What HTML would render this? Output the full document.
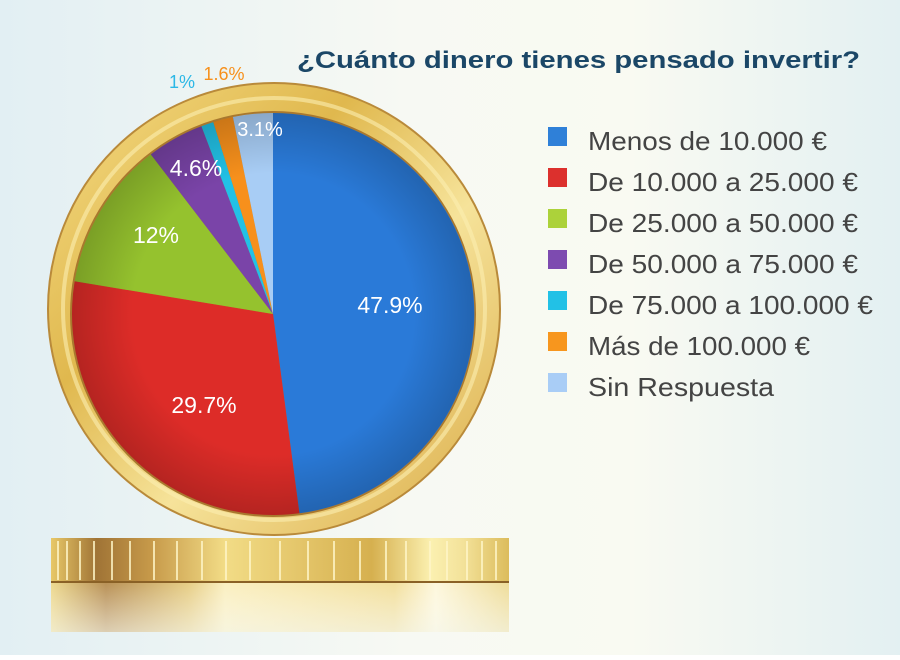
<!DOCTYPE html>
<html><head><meta charset="utf-8"><style>
html,body{margin:0;padding:0}
body{width:900px;height:655px;overflow:hidden}
</style></head><body>
<svg width="900" height="655" viewBox="0 0 900 655" xmlns="http://www.w3.org/2000/svg">
<defs>
<linearGradient id="bg" x1="0" y1="0" x2="1" y2="0">
<stop offset="0" stop-color="#e2eff3"/><stop offset="0.45" stop-color="#f7f9f3"/><stop offset="0.7" stop-color="#f9faf2"/><stop offset="1" stop-color="#e3f0f2"/>
</linearGradient>
<linearGradient id="ring" x1="0" y1="0" x2="1" y2="1">
<stop offset="0" stop-color="#f5dc85"/><stop offset="0.35" stop-color="#e0b84e"/><stop offset="0.6" stop-color="#f6e39a"/><stop offset="1" stop-color="#d9a943"/>
</linearGradient>
<linearGradient id="edge" x1="0" y1="0" x2="1" y2="0">
<stop offset="0" stop-color="#e8c868"/><stop offset="0.1" stop-color="#a07436"/><stop offset="0.22" stop-color="#c79a4a"/><stop offset="0.38" stop-color="#f2dc86"/><stop offset="0.7" stop-color="#d6b04f"/><stop offset="0.83" stop-color="#fbf0b0"/><stop offset="0.9" stop-color="#f3e29a"/><stop offset="1" stop-color="#dcbc5c"/>
</linearGradient>
<linearGradient id="refl" x1="0" y1="0" x2="1" y2="0">
<stop offset="0" stop-color="#edd98e"/><stop offset="0.12" stop-color="#b89055"/><stop offset="0.3" stop-color="#e6cd85"/><stop offset="0.38" stop-color="#faefc0"/><stop offset="0.75" stop-color="#f2df9c"/><stop offset="0.84" stop-color="#fdf7dc"/><stop offset="1" stop-color="#eedc98"/>
</linearGradient>
<linearGradient id="fade" x1="0" y1="0" x2="0" y2="1">
<stop offset="0" stop-color="#fff" stop-opacity="0"/><stop offset="1" stop-color="#f4f7f0" stop-opacity="0.6"/>
</linearGradient>
<radialGradient id="shade" cx="273" cy="314" r="201" gradientUnits="userSpaceOnUse">
<stop offset="0.7" stop-color="#000" stop-opacity="0"/><stop offset="1" stop-color="#000" stop-opacity="0.18"/>
</radialGradient>
</defs>
<rect width="900" height="655" fill="url(#bg)"/>

<rect x="51" y="582" width="458" height="50" fill="url(#refl)"/>
<rect x="51" y="582" width="458" height="50" fill="url(#fade)"/>
<rect x="51" y="538" width="458" height="45" fill="url(#edge)"/>
<g stroke="#fff6c8" stroke-width="2" opacity="0.8">
<line x1="58" y1="541" x2="58" y2="580"/><line x1="67" y1="541" x2="67" y2="580"/><line x1="80" y1="541" x2="80" y2="580"/><line x1="94" y1="541" x2="94" y2="580"/><line x1="112" y1="541" x2="112" y2="580"/><line x1="130" y1="541" x2="130" y2="580"/><line x1="154" y1="541" x2="154" y2="580"/><line x1="177" y1="541" x2="177" y2="580"/><line x1="202" y1="541" x2="202" y2="580"/><line x1="226" y1="541" x2="226" y2="580"/><line x1="250" y1="541" x2="250" y2="580"/><line x1="280" y1="541" x2="280" y2="580"/><line x1="308" y1="541" x2="308" y2="580"/><line x1="334" y1="541" x2="334" y2="580"/><line x1="360" y1="541" x2="360" y2="580"/><line x1="386" y1="541" x2="386" y2="580"/><line x1="406" y1="541" x2="406" y2="580"/><line x1="430" y1="541" x2="430" y2="580"/><line x1="447" y1="541" x2="447" y2="580"/><line x1="467" y1="541" x2="467" y2="580"/><line x1="482" y1="541" x2="482" y2="580"/><line x1="496" y1="541" x2="496" y2="580"/>
</g>
<line x1="51" y1="582" x2="509" y2="582" stroke="#8a6126" stroke-width="2"/>

<circle cx="274" cy="309" r="226" fill="url(#ring)" stroke="#b98a3a" stroke-width="2"/>
<circle cx="274" cy="309" r="211" fill="none" stroke="#fbeeb0" stroke-width="4" opacity="0.6"/>
<circle cx="273" cy="314" r="203" fill="#a9782e"/>

<g>
<path d="M273,314 L273,113 A201,201 0 0 1 299.4,513.3 Z" fill="#2a7ad8"/>
<path d="M273,314 L299.4,513.3 A201,201 0 0 1 74.7,281.3 Z" fill="#dd2c28"/>
<path d="M273,314 L74.7,281.3 A201,201 0 0 1 150.8,154.4 Z" fill="#95c22e"/>
<path d="M273,314 L150.8,154.4 A201,201 0 0 1 201.4,126.2 Z" fill="#7a44a8"/>
<path d="M273,314 L201.4,126.2 A201,201 0 0 1 213.3,122.1 Z" fill="#22c1e6"/>
<path d="M273,314 L213.3,122.1 A201,201 0 0 1 232.9,117.0 Z" fill="#f7901c"/>
<path d="M273,314 L232.9,117.0 A201,201 0 0 1 273,113 Z" fill="#a8cdf5"/>
<circle cx="273" cy="314" r="201" fill="url(#shade)"/>
</g>
<g font-family="Liberation Sans, sans-serif" font-size="23" fill="#fff" text-anchor="middle">
<text x="390" y="313">47.9%</text>
<text x="204" y="413">29.7%</text>
<text x="156" y="243">12%</text>
<text x="196" y="176">4.6%</text>
<text x="260" y="136" font-size="20">3.1%</text>
</g>
<text x="182" y="88" font-family="Liberation Sans, sans-serif" font-size="18" fill="#2cb8e6" text-anchor="middle">1%</text>
<text x="224" y="80" font-family="Liberation Sans, sans-serif" font-size="18" fill="#f7901c" text-anchor="middle">1.6%</text>

<text x="297" y="68" font-family="Liberation Sans, sans-serif" font-size="24" font-weight="bold" fill="#1b4767" textLength="563" lengthAdjust="spacingAndGlyphs">¿Cuánto dinero tienes pensado invertir?</text>

<g>
<rect x="548" y="127" width="19" height="19" fill="#2f80d8"/>
<rect x="548" y="168" width="19" height="19" fill="#dc302d"/>
<rect x="548" y="209" width="19" height="19" fill="#acd23a"/>
<rect x="548" y="250" width="19" height="19" fill="#7d4bb0"/>
<rect x="548" y="291" width="19" height="19" fill="#22c1e6"/>
<rect x="548" y="332" width="19" height="19" fill="#f7961e"/>
<rect x="548" y="373" width="19" height="19" fill="#a9cdf6"/>
</g>
<g font-family="Liberation Sans, sans-serif" font-size="26" fill="#444">
<text x="588" y="150" textLength="239" lengthAdjust="spacingAndGlyphs">Menos de 10.000 €</text>
<text x="588" y="191" textLength="270" lengthAdjust="spacingAndGlyphs">De 10.000 a 25.000 €</text>
<text x="588" y="232" textLength="270" lengthAdjust="spacingAndGlyphs">De 25.000 a 50.000 €</text>
<text x="588" y="273" textLength="270" lengthAdjust="spacingAndGlyphs">De 50.000 a 75.000 €</text>
<text x="588" y="314" textLength="285" lengthAdjust="spacingAndGlyphs">De 75.000 a 100.000 €</text>
<text x="588" y="355" textLength="222" lengthAdjust="spacingAndGlyphs">Más de 100.000 €</text>
<text x="588" y="396" textLength="186" lengthAdjust="spacingAndGlyphs">Sin Respuesta</text>
</g>
</svg>
</body></html>
